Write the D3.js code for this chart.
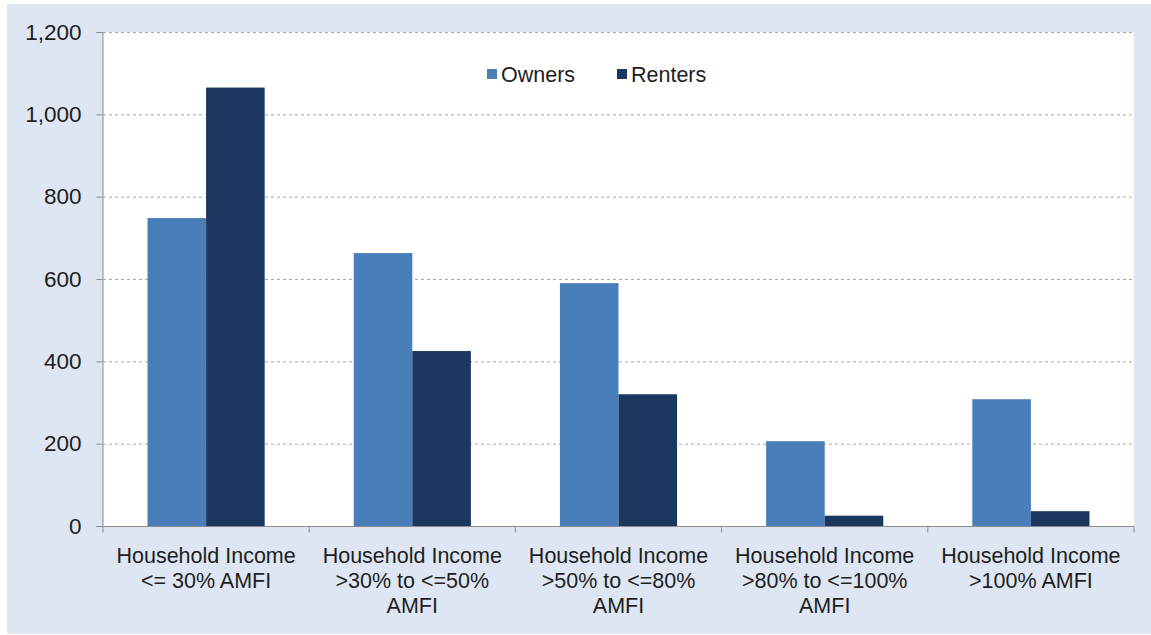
<!DOCTYPE html>
<html>
<head>
<meta charset="utf-8">
<script src="https://cdn.jsdelivr.net/npm/d3@7"></script>
<style>
  body { margin: 0; background: #fff; }
  svg { display: block; }
</style>
</head>
<body>
<div id="chart"></div>
<script>
// chart data
const categories = [
  ['Household Income', '<= 30% AMFI'],
  ['Household Income', '>30% to <=50%', 'AMFI'],
  ['Household Income', '>50% to <=80%', 'AMFI'],
  ['Household Income', '>80% to <=100%', 'AMFI'],
  ['Household Income', '>100% AMFI']
];
const seriesNames = ['Owners', 'Renters'];
const owners  = [748, 663, 590, 206, 308];
const renters = [1065, 425, 320, 25, 36];
const yTicks = [0, 200, 400, 600, 800, 1000, 1200];

const W = 1151, H = 635;
const colors = { Owners: '#4a7ebb', Renters: '#1b365f' };
const FONT = 'Liberation Sans, Arial, sans-serif';

const svg = d3.select('#chart').append('svg')
  .attr('width', W).attr('height', H);

// panel background
svg.append('rect')
  .attr('x', 7).attr('y', 4).attr('width', W - 7).attr('height', H - 5)
  .attr('fill', '#dde6f2');

// plot area
const plot = { left: 103, right: 1134, top: 32, bottom: 526 };
svg.append('rect')
  .attr('x', plot.left).attr('y', plot.top)
  .attr('width', plot.right - plot.left).attr('height', plot.bottom - plot.top)
  .attr('fill', '#fff');

const x0 = d3.scaleBand()
  .domain(d3.range(categories.length))
  .range([plot.left, plot.right])
  .padding(0);

// two bars per group, generous gap between groups
const x1 = d3.scaleBand()
  .domain(seriesNames)
  .range([0, x0.bandwidth()])
  .paddingInner(0)
  .paddingOuter(0.76);

const y = d3.scaleLinear().domain([0, 1200]).range([plot.bottom, plot.top]);

// gridlines
svg.append('g')
  .selectAll('line')
  .data(yTicks.filter(d => d > 0))
  .join('line')
    .attr('x1', plot.left).attr('x2', plot.right)
    .attr('y1', d => y(d) + 0.5).attr('y2', d => y(d) + 0.5)
    .attr('stroke', '#a6a6a6')
    .attr('stroke-width', 1)
    .attr('stroke-dasharray', '3,3');

// bars
const rows = categories.map((c, i) => ({ i, Owners: owners[i], Renters: renters[i] }));
const grp = svg.append('g')
  .selectAll('g')
  .data(rows)
  .join('g')
    .attr('transform', d => `translate(${x0(d.i)},0)`);

grp.selectAll('rect')
  .data(d => seriesNames.map(k => ({ k, v: d[k] })))
  .join('rect')
    .attr('x', d => x1(d.k))
    .attr('width', x1.bandwidth())
    .attr('y', d => y(d.v))
    .attr('height', d => y(0) - y(d.v))
    .attr('fill', d => colors[d.k]);

// y axis
const yAxis = svg.append('g')
  .attr('transform', `translate(${plot.left - 0.5},0)`)
  .call(d3.axisLeft(y).tickValues(yTicks).tickSize(6).tickPadding(15)
    .tickFormat(d3.format(',')));
yAxis.select('.domain').attr('stroke', '#8c8c8c');
yAxis.selectAll('.tick line').attr('stroke', '#8c8c8c');
yAxis.selectAll('text')
  .attr('font-family', FONT)
  .attr('font-size', '22.5px')
  .attr('fill', '#1e1e1e');

// x axis
const xAxis = svg.append('g')
  .attr('transform', `translate(0,${plot.bottom + 0.5})`);
xAxis.append('line')
  .attr('x1', plot.left - 6).attr('x2', plot.right)
  .attr('stroke', '#8c8c8c');
xAxis.selectAll('.cat-tick')
  .data(d3.range(categories.length + 1))
  .join('line')
    .attr('class', 'cat-tick')
    .attr('x1', i => plot.left + i * x0.bandwidth())
    .attr('x2', i => plot.left + i * x0.bandwidth())
    .attr('y1', 0).attr('y2', 6)
    .attr('stroke', '#8c8c8c');

xAxis.selectAll('.cat-label')
  .data(categories)
  .join('text')
    .attr('class', 'cat-label')
    .attr('text-anchor', 'middle')
    .attr('font-family', FONT)
    .attr('font-size', '21.5px')
    .attr('fill', '#1e1e1e')
    .each(function(lines, i) {
      const t = d3.select(this);
      lines.forEach((ln, j) => {
        t.append('tspan')
          .attr('x', x0(i) + x0.bandwidth() / 2)
          .attr('y', 36 + j * 25)
          .text(ln);
      });
    });

// legend
const legend = svg.append('g')
  .attr('font-family', FONT)
  .attr('font-size', '21.5px');
const legendX = [487, 617];
seriesNames.forEach((name, i) => {
  legend.append('rect')
    .attr('x', legendX[i]).attr('y', 69)
    .attr('width', 10).attr('height', 10)
    .attr('fill', colors[name]);
  legend.append('text')
    .attr('x', legendX[i] + 14).attr('y', 82)
    .attr('fill', '#1e1e1e')
    .text(name);
});
</script>
</body>
</html>
